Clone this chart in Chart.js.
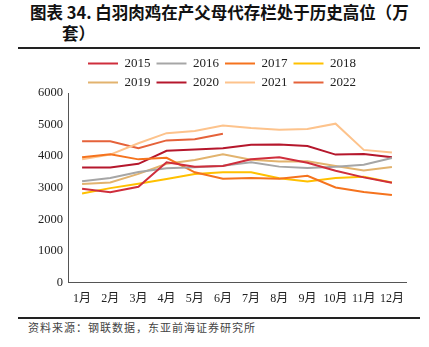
<!DOCTYPE html>
<html>
<head>
<meta charset="utf-8">
<script src="https://cdn.jsdelivr.net/npm/chart.js@4/dist/chart.umd.min.js"></script>
<style>
	html, body { margin: 0; padding: 0; background: #fff; }
	body { width: 429px; height: 347px; position: relative; overflow: hidden; }
	.title { position: absolute; font-family: "Noto Sans CJK SC", sans-serif; font-weight: bold; font-size: 16.5px; color: #111; white-space: nowrap; line-height: 21px; }
	.rule { position: absolute; left: 18px; width: 402px; height: 2px; background: #222; }
	.source { position: absolute; left: 28px; top: 319px; font-family: "Noto Sans CJK SC", sans-serif; font-size: 11px; letter-spacing: 1px; color: #444; }
	#wrap { position: absolute; left: 0; top: 45px; width: 429px; height: 270px; }
</style>
</head>
<body>
<div class="title" style="left:30px; top:2px;">图表 34. 白羽肉鸡在产父母代存栏处于历史高位（万</div>
<div class="title" style="left:62px; top:23px;">套）</div>
<div class="rule" style="top:47px;"></div>
<div id="wrap"><canvas id="broiler-chart"></canvas></div>
<div class="rule" style="top:317px;"></div>
<div class="source">资料来源：钢联数据，东亚前海证券研究所</div>

<script>
var months = ['1月', '2月', '3月', '4月', '5月', '6月', '7月', '8月', '9月', '10月', '11月', '12月'];
var years = ['2015', '2016', '2017', '2018', '2019', '2020', '2021', '2022'];
var yearColors = ['#CF2E3C', '#A6A6A6', '#F5731E', '#FFC000', '#E2B36E', '#B5172C', '#FDC38C', '#E5623A'];

// 在产父母代存栏（万套）
var stock2015 = [2970, 2860, 3030, 3810, 3670, 3690, 3900, 3970, 3790, 3540, 3330, 3160];
var stock2016 = [3210, 3310, 3500, 3620, 3650, 3700, 3810, 3670, 3630, 3670, 3730, 3940];
var stock2017 = [3970, 4060, 3900, 3950, 3490, 3290, 3310, 3290, 3380, 3010, 2870, 2770];
var stock2018 = [2820, 2990, 3130, 3280, 3440, 3490, 3490, 3300, 3200, 3310, 3350, 3170];
var stock2019 = [3120, 3170, 3440, 3760, 3880, 4060, 3890, 3830, 3840, 3690, 3550, 3660];
var stock2020 = [3640, 3640, 3760, 4170, 4210, 4250, 4360, 4370, 4320, 4050, 4070, 3970];
var stock2021 = [3900, 4050, 4410, 4730, 4800, 4970, 4890, 4840, 4860, 5030, 4200, 4120];
var stock2022 = [4470, 4470, 4250, 4500, 4540, 4710, null, null, null, null, null, null];

var yTicks = [0, 1000, 2000, 3000, 4000, 5000, 6000];

var series = [stock2015, stock2016, stock2017, stock2018, stock2019, stock2020, stock2021, stock2022];

var datasets = series.map(function (values, i) {
	return {
		label: years[i],
		data: values,
		borderColor: yearColors[i],
		backgroundColor: yearColors[i],
		borderWidth: 2,
		pointRadius: 0,
		tension: 0,
		spanGaps: false
	};
});

var serif = "'Liberation Serif', 'Noto Sans CJK SC', serif";

// legend sits a bit left of the plot centre and close to the plot top in the original
var legendNudge = {
	id: 'legendNudge',
	afterLayout: function (chart) {
		var lg = chart.legend;
		if (!lg) return;
		var dx = (lg.left + lg.right) / 2 - 222;
		lg.left -= dx;
		lg.right -= dx;
		lg.top += 6;
		lg.bottom += 6;
	}
};

new Chart('broiler-chart', {
	type: 'line',
	data: {
		labels: months,
		datasets: datasets
	},
	plugins: [legendNudge],
	options: {
		responsive: true,
		maintainAspectRatio: false,
		animation: false,
		layout: {
			padding: { left: 33, right: 23, top: 0, bottom: 0 }
		},
		plugins: {
			tooltip: { enabled: false },
			legend: {
				display: true,
				position: 'top',
				fullSize: false,
				labels: {
					boxWidth: 30,
					boxHeight: 2,
					padding: 6,
					color: '#222',
					font: { family: serif, size: 13 },
					generateLabels: function (chart) {
						var items = Chart.defaults.plugins.legend.labels.generateLabels(chart);
						items.forEach(function (item) { item.lineWidth = 0; });
						return items;
					}
				}
			}
		},
		scales: {
			x: {
				offset: true,
				grid: { display: false, drawTicks: false },
				border: { display: true, color: '#555', width: 1 },
				ticks: { color: '#222', padding: 9, maxRotation: 0, font: { family: serif, size: 12 } }
			},
			y: {
				min: yTicks[0],
				max: yTicks[yTicks.length - 1],
				grid: { display: false, drawTicks: false },
				border: { display: true, color: '#555', width: 1 },
				afterBuildTicks: function (scale) {
					scale.ticks = yTicks.map(function (v) { return { value: v }; });
				},
				ticks: {
					color: '#222',
					padding: 5,
					font: { family: serif, size: 12.5 },
					callback: function (v) { return String(v); }
				}
			}
		}
	}
});
</script>
</body>
</html>
